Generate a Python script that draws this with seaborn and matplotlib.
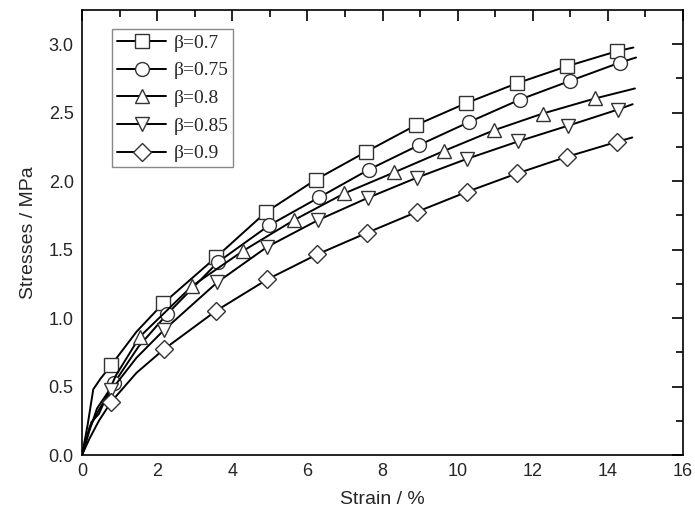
import matplotlib
matplotlib.use("Agg")
import matplotlib.pyplot as plt
import seaborn as sns
import numpy as np
import pandas as pd

# ---- data ----
labels = ["β=0.7", "β=0.75", "β=0.8", "β=0.85", "β=0.9"]

strain_07 = [0, 0.15, 0.30, 0.50, 0.78, 1.45, 2.16, 3.57, 4.90, 6.23, 7.56, 8.89, 10.22, 11.58, 12.91, 14.24, 14.68]
stress_07 = [0, 0.22, 0.48, 0.56, 0.657, 0.90, 1.107, 1.445, 1.774, 2.012, 2.214, 2.409, 2.569, 2.715, 2.839, 2.949, 2.976]
marks_07 = [4, 6, 7, 8, 9, 10, 11, 12, 13, 14, 15]

strain_075 = [0, 0.20, 0.40, 0.85, 1.50, 2.26, 3.62, 4.98, 6.31, 7.64, 8.97, 10.30, 11.66, 12.99, 14.32, 14.75]
stress_075 = [0, 0.18, 0.34, 0.523, 0.79, 1.027, 1.409, 1.677, 1.881, 2.085, 2.263, 2.431, 2.596, 2.732, 2.866, 2.903]
marks_075 = [3, 5, 6, 7, 8, 9, 10, 11, 12, 13, 14]

strain_08 = [0, 0.25, 0.45, 0.90, 1.54, 2.93, 4.29, 5.64, 6.98, 8.31, 9.64, 10.97, 12.27, 13.66, 14.72]
stress_08 = [0, 0.24, 0.30, 0.58, 0.864, 1.234, 1.491, 1.715, 1.910, 2.064, 2.221, 2.372, 2.494, 2.604, 2.677]
marks_08 = [4, 5, 6, 7, 8, 9, 10, 11, 12, 13]

strain_085 = [0, 0.20, 0.45, 0.78, 1.45, 2.18, 3.60, 4.93, 6.28, 7.61, 8.92, 10.25, 11.61, 12.94, 14.27, 14.66]
stress_085 = [0, 0.20, 0.33, 0.474, 0.71, 0.912, 1.261, 1.520, 1.715, 1.878, 2.026, 2.163, 2.290, 2.405, 2.523, 2.562]
marks_085 = [3, 5, 6, 7, 8, 9, 10, 11, 12, 13, 14]

strain_09 = [0, 0.20, 0.45, 0.78, 1.45, 2.18, 3.57, 4.93, 6.26, 7.59, 8.92, 10.25, 11.58, 12.91, 14.24, 14.65]
stress_09 = [0, 0.12, 0.25, 0.389, 0.60, 0.772, 1.053, 1.282, 1.465, 1.623, 1.776, 1.922, 2.056, 2.178, 2.287, 2.319]
marks_09 = [3, 5, 6, 7, 8, 9, 10, 11, 12, 13, 14]

xs = [strain_07, strain_075, strain_08, strain_085, strain_09]
ys = [stress_07, stress_075, stress_08, stress_085, stress_09]
marks = [marks_07, marks_075, marks_08, marks_085, marks_09]
markers = ["s", "o", "^", "v", "D"]
msizes = [9.5, 10, 10.5, 10.5, 9]

sns.set_style("white")
plt.rcParams["font.family"] = ["Liberation Sans", "DejaVu Sans"]

fig = plt.figure(figsize=(6.95, 5.22), dpi=100)
ax = fig.add_axes([82 / 695, 1 - 455 / 522, 601 / 695, 445 / 522])

for x, y, lab, mk, idx, ms in zip(xs, ys, labels, markers, marks, msizes):
    df = pd.DataFrame({"Strain": x, "Stress": y})
    sns.lineplot(data=df, x="Strain", y="Stress", ax=ax, sort=False,
                 color="black", linewidth=1.4, marker=mk, markevery=idx,
                 markersize=ms, markerfacecolor="white",
                 markeredgecolor="#333333", markeredgewidth=1.0,
                 label=lab, estimator=None)

ax.set_xlim(0, 16)
ax.set_ylim(0, 3.25)
ax.set_xticks(np.arange(0, 17, 2))
ax.set_xticks(np.arange(1, 16, 2), minor=True)
ax.set_yticks(np.arange(0, 3.01, 0.5))
ax.set_yticks(np.arange(0.25, 3.25, 0.5), minor=True)
ax.set_yticklabels([f"{v:.1f}" for v in np.arange(0, 3.01, 0.5)])
ax.tick_params(which="both", direction="in", top=True, right=True,
               labeltop=False, labelright=False, color="black", width=1.2)
ax.tick_params(which="major", length=8, labelsize=13, pad=6)
ax.tick_params(which="minor", length=5)
for s in ax.spines.values():
    s.set_color("black")
    s.set_linewidth(1.2)

ax.set_xlabel("Strain / %", fontsize=14, labelpad=8)
ax.set_ylabel("Stresses / MPa", fontsize=14, labelpad=8)

leg = ax.legend(loc="upper left", bbox_to_anchor=(0.05, 0.957), borderaxespad=0,
                prop={"family": ["Liberation Serif", "DejaVu Serif"], "size": 14},
                handlelength=2.55, handletextpad=0.36, labelspacing=0.52,
                borderpad=0.25, fancybox=False, framealpha=1)
leg.get_frame().set_edgecolor("#888888")
leg.get_frame().set_linewidth(1.0)

fig.savefig("out.png", dpi=100)
